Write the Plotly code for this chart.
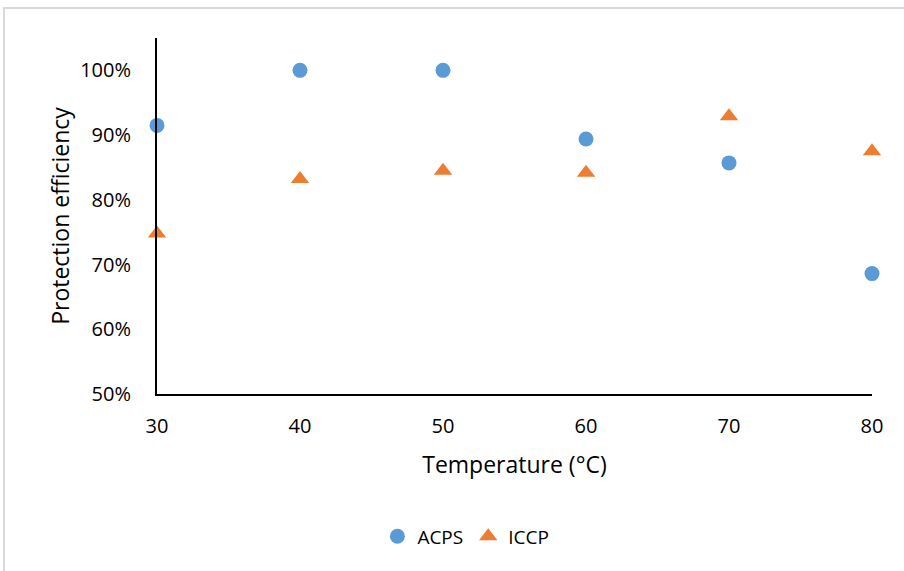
import plotly.graph_objects as go

temperature = [30, 40, 50, 60, 70, 80]
acps = [0.915, 1.00, 1.00, 0.894, 0.857, 0.686]
iccp = [0.748, 0.832, 0.845, 0.842, 0.929, 0.875]

FONT = "Open Sans, Noto Sans, sans-serif"

fig = go.Figure()
fig.add_trace(go.Scatter(x=temperature, y=acps, mode="markers", name="ACPS",
                         marker=dict(symbol="circle", size=15, color="#5B9BD5"),
                         cliponaxis=False))
fig.add_trace(go.Scatter(x=temperature, y=iccp, mode="markers", name="ICCP",
                         marker=dict(symbol="triangle-up", size=16, color="#ED7D31"),
                         cliponaxis=False))

fig.update_layout(
    width=904, height=571,
    margin=dict(l=157, r=32, t=38, b=177),
    paper_bgcolor="white", plot_bgcolor="white",
    font=dict(family=FONT, size=20, color="#000000"),
    showlegend=True,
    legend=dict(orientation="h", x=0.432, xanchor="center", y=-0.4, yanchor="middle",
                font=dict(size=19), itemwidth=30, tracegroupgap=0),
    xaxis=dict(range=[30, 80], dtick=10, tick0=30, showgrid=False, zeroline=False,
               showline=True, linecolor="black", linewidth=2, ticks="",
               ticklabelstandoff=13, tickfont=dict(size=20),
               title=dict(text="Temperature (°C)", font=dict(size=23), standoff=19)),
    yaxis=dict(range=[0.5, 1.05], dtick=0.1, tick0=0.5, tickformat=".0%", showgrid=False,
               zeroline=False, showline=True, linecolor="black", linewidth=2, ticks="",
               ticklabelstandoff=20, tickfont=dict(size=20),
               title=dict(text="Protection efficiency", font=dict(size=23), standoff=4)),
    shapes=[dict(type="rect", xref="paper", yref="paper",
                 x0=(4 - 157) / 715, x1=1.2, y0=-0.8, y1=(394 - 8) / 356,
                 line=dict(color="#D9D9D9", width=2), fillcolor="rgba(0,0,0,0)",
                 layer="below")],
)

fig.write_html("out.html")
